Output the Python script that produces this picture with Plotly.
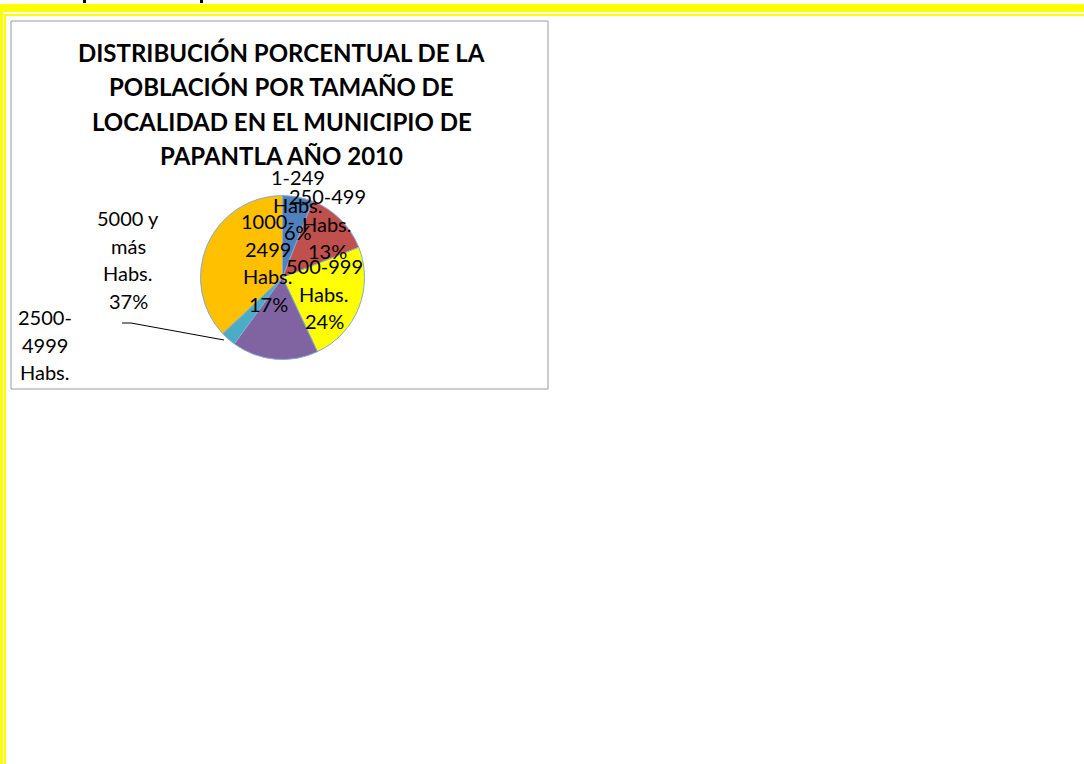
import plotly.graph_objects as go

# population share by locality size, Papantla 2010
categories = ["1-249 Habs.", "250-499 Habs.", "500-999 Habs.",
              "1000-2499 Habs.", "2500-4999 Habs.", "5000 y más Habs."]
values = [6, 13, 24, 17, 3, 37]
colors = ["#4F81BD", "#C0504D", "#FFFF00", "#8064A2", "#4BACC6", "#FFC000"]

title_lines = ["DISTRIBUCIÓN PORCENTUAL DE LA", "POBLACIÓN POR TAMAÑO DE",
               "LOCALIDAD EN EL MUNICIPIO DE", "PAPANTLA AÑO 2010"]

# how excel wrapped each data label
label_wraps = [["1-249", "Habs."], ["250-499", "Habs."], ["500-999", "Habs."],
               ["1000-", "2499", "Habs."], ["2500-", "4999", "Habs."],
               ["5000 y", "más", "Habs."]]
show_pct = [True, True, True, True, False, True]  # last line of 2500-4999 is clipped by the box

W, H = 1084, 764
# label anchor (centre x, first line y) in page pixels
label_pos = [(298, 177), (327, 196), (324, 266), (268, 221), (45, 317), (128, 218)]
line_gap = 27.5

pie_cx, pie_cy, pie_r = 282.5, 277.5, 82

fig = go.Figure()
fig.add_trace(go.Pie(
    labels=categories, values=values, sort=False, direction="clockwise", rotation=0,
    marker=dict(colors=colors, line=dict(color="#86A8D6", width=1)),
    textinfo="none", hoverinfo="label+percent", showlegend=False,
    domain=dict(x=[(pie_cx - pie_r) / W, (pie_cx + pie_r) / W],
                y=[(H - pie_cy - pie_r) / H, (H - pie_cy + pie_r) / H]),
))

annos = []
for i, line in enumerate(title_lines):
    annos.append(dict(x=281.5, y=52 + i * 34.5, text="<b>" + line + "</b>", showarrow=False,
                      xref="x", yref="y", xanchor="center", yanchor="middle",
                      font=dict(family="Lato", size=24, color="black")))

for i, wrap in enumerate(label_wraps):
    lines = list(wrap)
    if show_pct[i]:
        lines.append(str(values[i]) + "%")
    x0, y0 = label_pos[i]
    for j, t in enumerate(lines):
        annos.append(dict(x=x0, y=y0 + j * line_gap, text=t, showarrow=False,
                          xref="x", yref="y", xanchor="center", yanchor="middle",
                          font=dict(family="Lato", size=20, color="black")))

shapes = [
    # yellow page frame
    dict(type="rect", x0=0, x1=W, y0=4, y1=12, fillcolor="#FFFF00", line_width=0),
    dict(type="rect", x0=4, x1=W, y0=14, y1=16, fillcolor="#FFFF00", line_width=0),
    dict(type="rect", x0=0, x1=3, y0=4, y1=H, fillcolor="#FFFF00", line_width=0),
    dict(type="rect", x0=4, x1=6, y0=14, y1=H, fillcolor="#FFFF00", line_width=0),
    # bits of the cut off heading
    dict(type="rect", x0=83, x1=86, y0=0, y1=3, fillcolor="black", line_width=0),
    dict(type="rect", x0=200, x1=203, y0=0, y1=3, fillcolor="black", line_width=0),
    # chart box
    dict(type="rect", x0=11, x1=548, y0=21, y1=389, fillcolor="rgba(0,0,0,0)",
         line=dict(color="#9A9A9A", width=1)),
    # leader line for 2500-4999
    dict(type="path", path="M 122 323 L 131 323 L 224 340", line=dict(color="black", width=1)),
]
for s in shapes:
    s["xref"] = "x"
    s["yref"] = "y"
    s["layer"] = "below" if s["type"] == "rect" and s.get("fillcolor") == "#FFFF00" else "above"

fig.update_layout(
    width=W, height=H, margin=dict(l=0, r=0, t=0, b=0),
    paper_bgcolor="white", plot_bgcolor="white",
    xaxis=dict(range=[0, W], visible=False, fixedrange=True),
    yaxis=dict(range=[H, 0], visible=False, fixedrange=True),
    annotations=annos, shapes=shapes,
)
# drop the browser's default body margin so the figure sits at the page corner
fig.write_html("out.html", config={"displayModeBar": False},
               post_script="document.body.style.margin='0px';")
